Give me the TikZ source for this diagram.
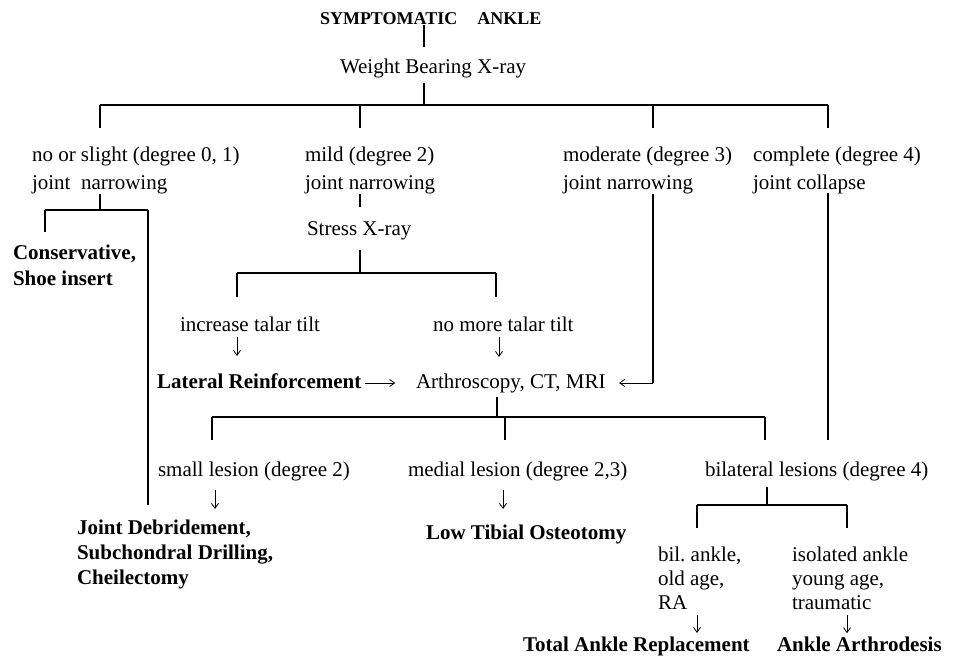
\documentclass[tikz,border=0pt]{standalone}
\usepackage{fontspec}
\setmainfont{Liberation Serif}
\usetikzlibrary{arrows.meta}
\begin{document}
\begin{tikzpicture}[x=1pt,y=-1pt,
  line width=1.1pt,
  arr/.style={line width=0.8pt,-{Straight Barb[length=5pt,width=7pt,line width=0.8pt]}},
  lbl/.style={inner sep=0pt, outer sep=0pt, anchor=base west, font=\fontsize{21}{28}\selectfont},
  blbl/.style={lbl, font=\fontsize{21}{26}\selectfont\bfseries},
  mlbl/.style={inner sep=0pt, outer sep=0pt, anchor=north west, align=left, font=\fontsize{21}{28}\selectfont},
  mblbl/.style={mlbl, font=\fontsize{21}{26}\selectfont\bfseries},
]
\useasboundingbox (0,0) rectangle (955,658);

% ---------- text nodes ----------
\node[lbl, font=\fontsize{18}{22}\selectfont\bfseries] (title) at (320,25) {SYMPTOMATIC\hspace{20pt}ANKLE};
\node[lbl] (wb) at (340,74) {Weight Bearing X-ray};

\node[mlbl] (n1) at (32,141.4) {\strut no or slight (degree 0, 1)\\joint\ \ narrowing};
\node[mlbl] (n2) at (305,141.4) {\strut mild (degree 2)\\joint narrowing};
\node[mlbl] (n3) at (563,141.4) {\strut moderate (degree 3)\\joint narrowing};
\node[mlbl] (n4) at (753,141.4) {\strut complete (degree 4)\\joint collapse};

\node[mblbl] (cons) at (13,240.8) {\strut Conservative,\\Shoe insert};
\node[lbl] (stress) at (307,235) {Stress X-ray};

\node[lbl] (incr) at (180,331) {increase talar tilt};
\node[lbl] (nomore) at (433,331) {no more talar tilt};

\node[blbl] (lat) at (157,388) {Lateral Reinforcement};
\node[lbl] (arth) at (416,388) {Arthroscopy, CT, MRI};

\node[lbl] (small) at (158,476) {small lesion (degree 2)};
\node[lbl] (medial) at (408,476) {medial lesion (degree 2,3)};
\node[lbl] (bilat) at (705,476) {bilateral lesions (degree 4)};

\node[mblbl, font=\fontsize{21}{25}\selectfont\bfseries] (jd) at (77,516.5) {\strut Joint Debridement,\\Subchondral Drilling,\\Cheilectomy};
\node[blbl] (lowtib) at (426,539) {Low Tibial Osteotomy};

\node[mlbl, font=\fontsize{21}{24}\selectfont] (bil) at (658,544.2) {\strut bil.\ ankle,\\old age,\\RA};
\node[mlbl, font=\fontsize{21}{24}\selectfont] (iso) at (792,544.2) {\strut isolated ankle\\young age,\\traumatic};

\node[blbl] (tar) at (523,651) {Total Ankle Replacement};
\node[blbl] (aa) at (777,651) {Ankle Arthrodesis};

% ---------- junction coordinates ----------
\coordinate (b1) at (424,105);
\coordinate (b1a) at (100,105);
\coordinate (b1b) at (360,105);
\coordinate (b1c) at (653,105);
\coordinate (b1d) at (828,105);
\coordinate (b2) at (100,210);
\coordinate (b2a) at (45,210);
\coordinate (b2b) at (148,210);
\coordinate (b3) at (360,273);
\coordinate (b3a) at (237,273);
\coordinate (b3b) at (496,273);
\coordinate (xa2) at (499,0);
\coordinate (ay) at (0,383);
\coordinate (m3) at (653,383);
\coordinate (n4end) at (828,440);
\coordinate (b4) at (497,417);
\coordinate (b4a) at (212,417);
\coordinate (b4b) at (505,417);
\coordinate (b4c) at (765,417);
\coordinate (xs) at (215,0);
\coordinate (xm) at (503,0);
\coordinate (b5) at (767,505);
\coordinate (b5a) at (697,505);
\coordinate (b5b) at (847,505);

% ---------- connectors ----------
\draw (title.base -| b1) -- ++(0,22);
\draw (wb.base -| b1) ++(0,9) -- (b1);
\draw (b1a) -- (b1d);
\foreach \c in {b1a,b1b,b1c,b1d} \draw (\c) -- ++(0,23);

% no or slight
\draw (n1.south -| b2) -- (b2);
\draw (b2a) -- (b2b);
\draw (b2a) -- ++(0,22);
\draw (b2b) -- ++(0,295);

% mild
\draw (n2.south -| b1b) -- ++(0,13);
\draw (stress.base -| b3) ++(0,15) -- (b3);
\draw (b3a) -- (b3b);
\draw (b3a) -- ++(0,24);
\draw (b3b) -- ++(0,24);
\draw[arr] (incr.base -| b3a) ++(0,6) -- ++(0,19);
\draw[arr] (nomore.base -| xa2) ++(0,6) -- ++(0,20);
\draw[arr] (lat.east |- ay) ++(4,0) -- ++(30,0);

% moderate
\draw (n3.south -| m3) -- (m3);
\draw[arr] (m3) -- ++(-34,0);

% complete
\draw (n4.south -| n4end) -- (n4end);

% arthroscopy
\draw (arth.base -| b4) ++(0,9) -- (b4);
\draw (b4a) -- (b4c);
\foreach \c in {b4a,b4b,b4c} \draw (\c) -- ++(0,23);
\draw[arr] (small.base -| xs) ++(0,14) -- ++(0,19);
\draw[arr] (medial.base -| xm) ++(0,14) -- ++(0,19);

% bilateral
\draw (bilat.base -| b5) ++(0,11) -- (b5);
\draw (b5a) -- (b5b);
\draw (b5a) -- ++(0,23);
\draw (b5b) -- ++(0,23);
\draw[arr] (bil.south -| b5a) ++(0,6) -- ++(0,18);
\draw[arr] (iso.south -| b5b) ++(0,6) -- ++(0,18);
\end{tikzpicture}
\end{document}
